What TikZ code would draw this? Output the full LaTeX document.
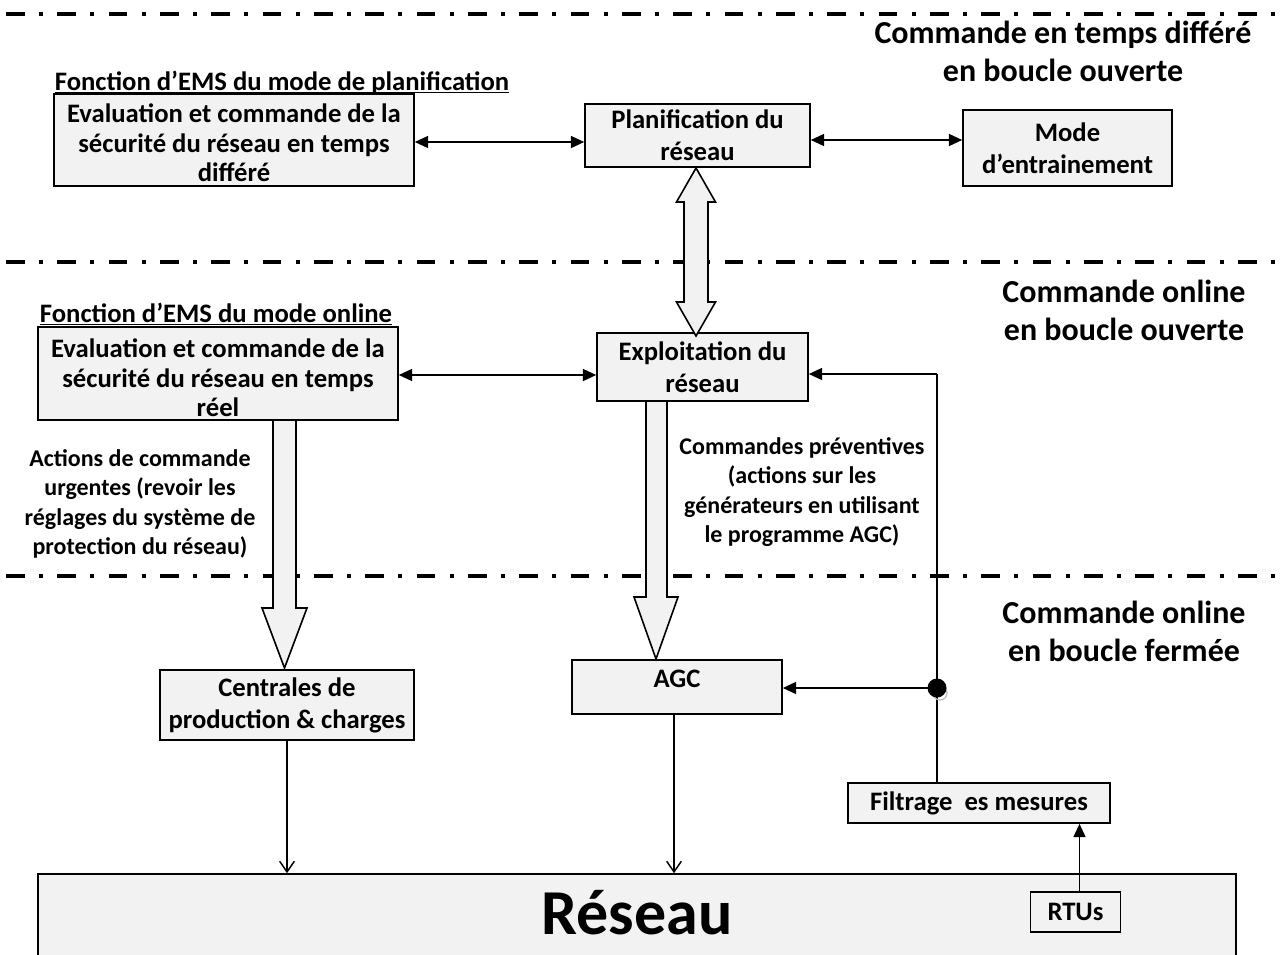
\documentclass[tikz,border=0pt]{standalone}
\usepackage{fontspec}
\setmainfont{Carlito}
\usetikzlibrary{arrows.meta}
\newlength\pxu
\setlength\pxu{0.75pt}
\definecolor{boxgray}{HTML}{F2F2F2}
\newcommand\mytxt{\bfseries\fontsize{18}{22}\selectfont}
\newcommand\myboxtxt{\bfseries\fontsize{20}{24}\selectfont}
\newcommand\mybigtxt{\bfseries\fontsize{20}{22}\selectfont}
\newcommand\myhead{\bfseries\fontsize{24}{28.5}\selectfont}
\begin{document}
\begin{tikzpicture}[x=0.75pt,y=-0.75pt,
  box/.style={draw, line width=1.2pt, fill=boxgray, inner sep=0pt, align=center, font=\myboxtxt},
  txt/.style={inner sep=0pt, align=center, font=\mytxt},
  bigtxt/.style={inner sep=0pt, align=center, font=\mybigtxt},
  head/.style={inner sep=0pt, align=center, font=\myhead},
  sepline/.style={line width=3pt, dash pattern=on 14pt off 10.75pt on 3pt off 10.75pt, dash phase=34pt},
  ln/.style={line width=1.3pt},
  arr/.style={line width=1.3pt, -{Triangle[length=10pt,width=9pt]}},
  dbl/.style={line width=1.3pt, {Triangle[length=10pt,width=9pt]}-{Triangle[length=10pt,width=9pt]}},
  openarr/.style={line width=1.1pt, -{Straight Barb[length=8pt,width=11pt]}},
  hollow/.style={draw, line width=1.2pt, fill=boxgray, line join=miter}]
\useasboundingbox (0,0) rectangle (1287,954);

% separators
\draw[sepline] (0,14) -- (1287,14);
\draw[sepline] (0,262) -- (1287,262);
\draw[sepline] (0,576) -- (1287,576);

% headings
\node[head] (hd1) at (1063,51) {Commande en temps différé\\en boucle ouverte};
\node[head] (hd2) at (1124,310.5) {Commande online\\en boucle ouverte};
\node[head] (hd3) at (1124,631.5) {Commande online\\en boucle fermée};

% top level
\node[box, minimum width=360\pxu, minimum height=92\pxu] (b1) at (234,140) {};
\node[bigtxt] (b1t) at (234,143) {Evaluation et commande de la\\sécurité du réseau en temps\\différé};
\node[bigtxt, anchor=base] (lab1) at (282,90) {Fonction d’EMS du mode de planification};
\draw[line width=0.9pt] ([yshift=-2.5\pxu]lab1.base west) -- ([yshift=-2.5\pxu]lab1.base east);

\node[box, minimum width=225\pxu, minimum height=63\pxu] (pl) at (697.5,135.5) {Planification du\\réseau};
\node[box, minimum width=209\pxu, minimum height=76\pxu] (mode) at (1067.5,148) {Mode\\d’entrainement};

% middle level
\node[box, minimum width=360\pxu, minimum height=93\pxu] (b2) at (218,373.5) {};
\node[bigtxt] (b2t) at (218,378) {Evaluation et commande de la\\sécurité du réseau en temps\\réel};
\node[bigtxt, anchor=base] (lab2) at (216,322) {Fonction d’EMS du mode online};
\draw[line width=0.9pt] ([yshift=-2.5\pxu]lab2.base west) -- ([yshift=-2.5\pxu]lab2.base east);

\node[box, minimum width=211\pxu, minimum height=68\pxu] (expl) at (702.5,367) {Exploitation du\\réseau};

\node[txt] (s1) at (140,504) {Actions de commande\\urgentes (revoir les\\réglages du système de\\protection du réseau)};
\node[txt] (s2) at (802,492) {Commandes préventives\\(actions sur les\\générateurs en utilisant\\le programme AGC)};

% bottom level
\node[box, minimum width=254\pxu, minimum height=70\pxu] (cent) at (287,705) {Centrales de\\production \& charges};
\node[box, minimum width=210\pxu, minimum height=54\pxu] (agc) at (677,687) {};
\node[inner sep=0pt, font=\myboxtxt] (agct) at (677,679) {AGC};
\node[box, minimum width=262\pxu, minimum height=40\pxu] (filt) at (979,803) {Filtrage\ \ es mesures};

\node[box, minimum width=1198\pxu, minimum height=86\pxu] (reseau) at (637,917) {};
\node[inner sep=0pt, font=\bfseries\fontsize{48}{56}\selectfont] (reseaut) at (637,913) {Réseau};
\node[box, minimum width=90\pxu, minimum height=40\pxu] (rtu) at (1075.5,912) {RTUs};

% hollow arrows
\draw[hollow] (696,168) -- (715.5,202) -- (708,202) -- (708,302) -- (715.5,302) -- (696,336) -- (676.5,302) -- (684,302) -- (684,202) -- (676.5,202) -- cycle;
\draw[hollow] (273,420) -- (273,608) -- (262,608) -- (284.5,668) -- (307,608) -- (296,608) -- (296,420) -- cycle;
\draw[hollow] (646,401) -- (646,597) -- (634,597) -- (656,659) -- (678,597) -- (667,597) -- (667,401) -- cycle;

% connectors
\coordinate (ya) at (0,142);
\coordinate (yb) at (0,140);
\coordinate (yc) at (0,375);
\draw[dbl] (b1.east |- ya) -- (pl.west |- ya);
\draw[dbl] (pl.east |- yb) -- (mode.west |- yb);
\draw[dbl] (b2.east |- yc) -- (expl.west |- yc);

\coordinate (dot) at (937,688);
\coordinate (fbtop) at (937,374);
\draw[ln] (filt.north -| dot) -- (fbtop);
\draw[arr] (fbtop) -- (expl.east |- fbtop);
\draw[arr] (dot) -- (agc.east |- dot);
\draw[gray!50, line width=1pt] (940,693) circle[radius=7\pxu];
\fill (dot) circle[radius=9.5\pxu];

\draw[openarr] (cent.south) -- (cent.south |- reseau.north);
\draw[openarr] ([xshift=-3\pxu]agc.south) -- ([xshift=-3\pxu]agc.south |- reseau.north);
\draw[arr] ([xshift=4\pxu]rtu.north) -- ([xshift=4\pxu]rtu.north |- filt.south);
\end{tikzpicture}
\end{document}
